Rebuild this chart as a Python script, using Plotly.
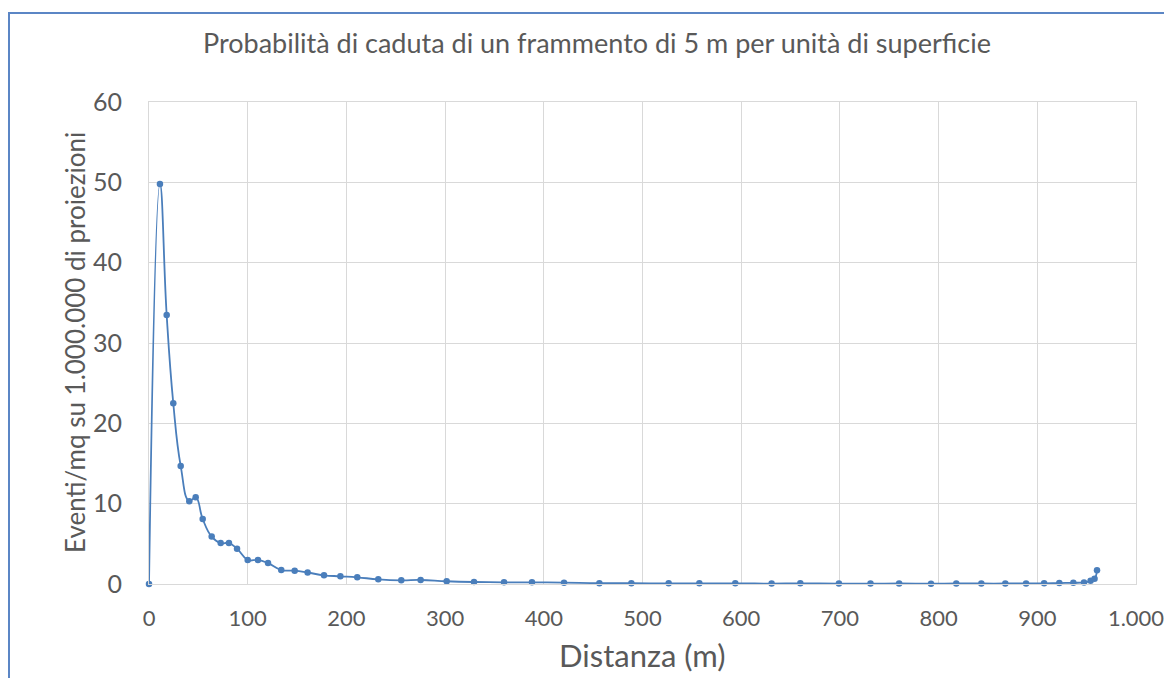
import plotly.graph_objects as go

distanza = [0, 11.1, 17.9, 24.6, 32.1, 40.8, 47.3, 54.4, 63.5, 72.6, 81.0, 89.2, 100.0,
            110.4, 120.6, 134.0, 147.6, 160.7, 177.3, 193.9, 211.0, 232.3, 255.6, 275.2,
            301.6, 329.3, 359.7, 388.0, 420.5, 456.3, 488.7, 526.5, 557.6, 594.0, 630.8,
            659.9, 699.0, 731.0, 760.0, 792.3, 817.9, 843.3, 867.6, 888.6, 906.9, 922.3,
            936.5, 947.3, 954.0, 958.0, 960.5]
eventi = [0, 49.8, 33.5, 22.5, 14.7, 10.3, 10.8, 8.1, 5.9, 5.1, 5.1, 4.4, 3.0,
          3.0, 2.6, 1.74, 1.66, 1.43, 1.08, 0.96, 0.83, 0.58, 0.46, 0.5,
          0.34, 0.25, 0.21, 0.21, 0.17, 0.1, 0.1, 0.08, 0.08, 0.08, 0.05,
          0.08, 0.05, 0.05, 0.06, 0.04, 0.06, 0.06, 0.06, 0.07, 0.08, 0.12,
          0.15, 0.2, 0.4, 0.65, 1.7]

x_ticks = [0, 100, 200, 300, 400, 500, 600, 700, 800, 900, 1000]
x_ticklabels = ["0", "100", "200", "300", "400", "500", "600", "700", "800", "900", "1.000"]
y_ticks = [0, 10, 20, 30, 40, 50, 60]

title_text = "Probabilità di caduta di un frammento di 5 m per unità di superficie"
x_title = "Distanza (m)"
y_title = "Eventi/mq su 1.000.000 di proiezioni"

FONT = "Lato, 'Open Sans', sans-serif"
GREY = "#595959"
BLUE = "#4A7EBB"

fig = go.Figure()
fig.add_trace(go.Scatter(
    x=distanza, y=eventi, mode="lines+markers",
    line=dict(color=BLUE, width=1.8, shape="spline", smoothing=1.3),
    marker=dict(color=BLUE, size=6.5),
    cliponaxis=False,
    showlegend=False, hoverinfo="x+y",
))

# page body has an 8px margin; plot area in page coords: x 149..1136, y 102..584
OFF = 8
PX0, PX1, PY0, PY1 = 149, 1136, 102, 584
W, H = 1172, 678
L = PX0 - OFF
T = PY0 - OFF
pw, ph = PX1 - PX0, PY1 - PY0
R = W - L - pw
B = H - T - ph

fig.update_layout(
    width=W, height=H,
    margin=dict(l=L, r=R, t=T, b=B, autoexpand=False),
    paper_bgcolor="white", plot_bgcolor="white",
    font=dict(family=FONT, color=GREY),
    xaxis=dict(range=[0, 1000], tickvals=x_ticks, ticktext=x_ticklabels,
               showgrid=True, gridcolor="#D9D9D9", gridwidth=1,
               zeroline=False, showline=True, linecolor="#D9D9D9", linewidth=1,
               mirror=True, ticks="", tickfont=dict(size=22, color=GREY),
               ticklabelstandoff=15),
    yaxis=dict(range=[0, 60], tickvals=y_ticks,
               showgrid=True, gridcolor="#D9D9D9", gridwidth=1,
               zeroline=False, showline=True, linecolor="#D9D9D9", linewidth=1,
               mirror=True, ticks="", tickfont=dict(size=25, color=GREY),
               ticklabelstandoff=21),
)

def px_x(p):
    return (p - PX0) / pw

def px_y(p):
    return (PY1 - p) / ph

fig.add_annotation(text=title_text, xref="paper", yref="paper",
                   x=px_x(597), y=px_y(42), xanchor="center", yanchor="middle",
                   showarrow=False, font=dict(size=27, color=GREY, family=FONT))
fig.add_annotation(text=x_title, xref="paper", yref="paper",
                   x=px_x(642), y=px_y(655), xanchor="center", yanchor="middle",
                   showarrow=False, font=dict(size=31, color=GREY, family=FONT))
fig.add_annotation(text=y_title, xref="paper", yref="paper",
                   x=px_x(75), y=px_y(343), xanchor="center", yanchor="middle",
                   textangle=-90, showarrow=False,
                   font=dict(size=26, color=GREY, family=FONT))

fig.add_shape(type="rect", xref="paper", yref="paper",
              x0=px_x(9), x1=px_x(1200), y0=px_y(720), y1=px_y(13),
              line=dict(color="#5B86C5", width=2), fillcolor="rgba(0,0,0,0)",
              layer="below")

fig.write_html("out.html")
